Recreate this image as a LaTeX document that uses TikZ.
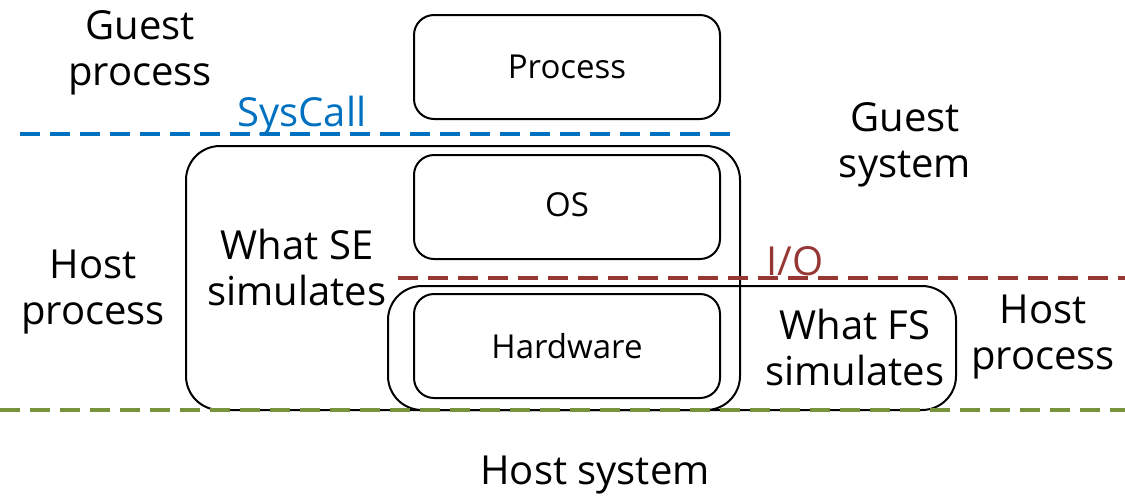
\documentclass[tikz,border=0pt]{standalone}
\usepackage{fontspec}
\setmainfont{Open Sans}
\definecolor{cblue}{RGB}{0,112,192}
\definecolor{cred}{RGB}{150,55,52}
\definecolor{cgreen}{RGB}{119,147,60}
\begin{document}
\begin{tikzpicture}[x=0.5pt,y=-0.5pt,
  box/.style={draw=black,line width=1pt,rounded corners=10pt},
  big/.style={draw=black,line width=1pt,rounded corners=17pt},
  lbl/.style={align=center,font=\fontsize{20}{23}\selectfont,inner sep=0pt},
  small/.style={font=\fontsize{16.5}{19}\selectfont,inner sep=0pt},
  dsh/.style={line width=2pt,dash pattern=on 10pt off 5pt}]
\useasboundingbox (0,0) rectangle (1125,499);
% boxes
\draw[big] (186,146) rectangle (740,410);
\draw[big] (388,286) rectangle (956,410);
\draw[box] (414,15) rectangle (720,119);
\draw[box] (414,155) rectangle (720,259);
\draw[box] (414,294) rectangle (720,398);
\node[small] (proc) at (567,67) {Process};
\node[small] (os) at (567,205) {OS};
\node[small] (hw) at (567,346) {Hardware};
% dashed lines
\coordinate (b1) at (20,134); \coordinate (b2) at (733,134);
\coordinate (r1) at (398,278); \coordinate (r2) at (1125,278);
\coordinate (g1) at (0,410); \coordinate (g2) at (1125,410);
\draw[dsh,cblue] (b1) -- (b2);
\draw[dsh,cred] (r1) -- (r2);
\draw[dsh,cgreen] (g1) -- (g2);
% labels
\node[lbl,text=cblue] (sys) at (302,116) {SysCall};
\node[lbl,text=cred] (io) at (795,261) {I/O};
\node[lbl] (gp) at (140,53) {Guest\\process};
\node[lbl] (gs) at (905,145) {Guest\\system};
\node[lbl] (hp1) at (93,292) {Host\\process};
\node[lbl] (se) at (297,267) {What SE\\simulates};
\node[lbl] (fs) at (855,347) {What FS\\simulates};
\node[lbl] (hp2) at (1043,337) {Host\\process};
\node[lbl] (hs) at (595,475) {Host system};
\end{tikzpicture}
\end{document}
